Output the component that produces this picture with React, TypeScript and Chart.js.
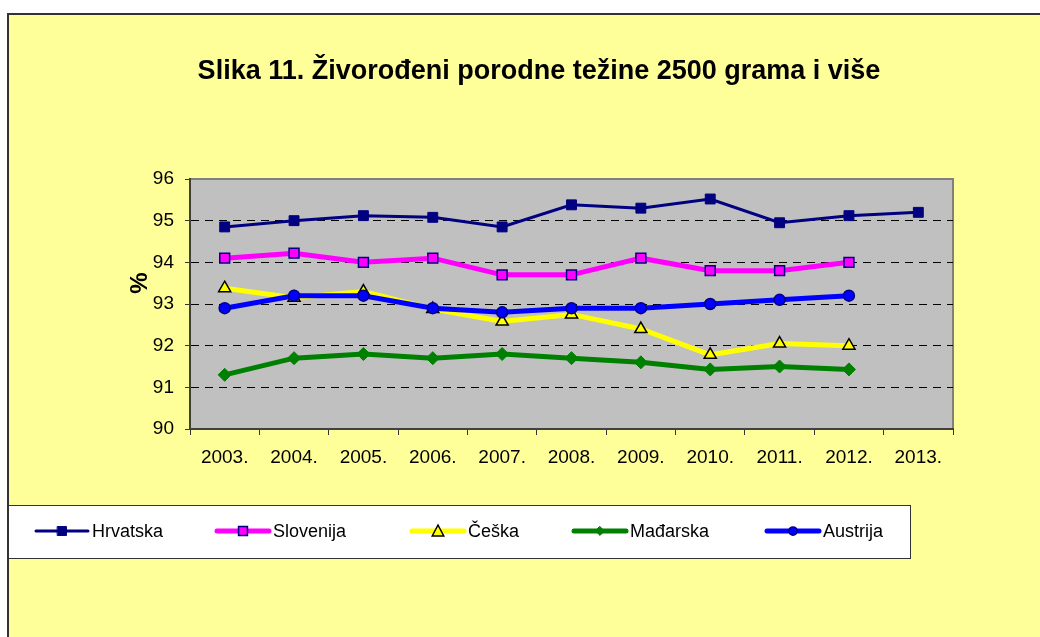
import { useEffect, useRef } from 'react';
import { Chart, registerables } from 'chart.js';

Chart.register(...registerables);

const TITLE = 'Slika 11. Živorođeni porodne težine 2500 grama i više';
const Y_LABEL = '%';
const YEARS = ['2003.', '2004.', '2005.', '2006.', '2007.', '2008.', '2009.', '2010.', '2011.', '2012.', '2013.'];
const HRVATSKA = [94.85, 95.0, 95.12, 95.08, 94.85, 95.38, 95.3, 95.52, 94.95, 95.12, 95.2];
const SLOVENIJA = [94.1, 94.22, 94.0, 94.1, 93.7, 93.7, 94.1, 93.8, 93.8, 94.0];
const CESKA = [93.38, 93.15, 93.3, 92.88, 92.58, 92.75, 92.4, 91.78, 92.05, 92.0];
const MADARSKA = [91.3, 91.7, 91.8, 91.7, 91.8, 91.7, 91.6, 91.43, 91.5, 91.43];
const AUSTRIJA = [92.9, 93.2, 93.2, 92.9, 92.8, 92.9, 92.9, 93.0, 93.1, 93.2];
const Y_MIN = 90;
const Y_MAX = 96;
const Y_STEP = 1;

const FONT = '"Liberation Sans", Arial, sans-serif';

function drawMarker(ctx: CanvasRenderingContext2D, style: string, x: number, y: number, r: number, fill: string, stroke: string, lw: number) {
  ctx.beginPath();
  if (style === 'rect') {
    const s = r * Math.SQRT1_2;
    ctx.rect(x - s, y - s, 2 * s, 2 * s);
  } else if (style === 'rectRot') {
    ctx.moveTo(x, y - r);
    ctx.lineTo(x + r, y);
    ctx.lineTo(x, y + r);
    ctx.lineTo(x - r, y);
    ctx.closePath();
  } else if (style === 'triangle') {
    const h = r * 1.5;
    const w = r * Math.cos(Math.PI / 6);
    ctx.moveTo(x, y - h / 2 - 1);
    ctx.lineTo(x + w, y + h / 2);
    ctx.lineTo(x - w, y + h / 2);
    ctx.closePath();
  } else {
    ctx.arc(x, y, r, 0, Math.PI * 2);
  }
  ctx.fillStyle = fill;
  ctx.fill();
  ctx.lineWidth = lw;
  ctx.strokeStyle = stroke;
  ctx.stroke();
}

const LEGEND_BOX = { x: 8, y: 505, w: 902, h: 53 };
const LEGEND_ITEM_X = [36, 217, 412, 574, 767];
const LEGEND_LINE_LEN = 52;
const LEGEND_MARKER_SCALE: Record<string, number> = { rect: 0.9, triangle: 0.95, rectRot: 0.68, circle: 0.75 };

const framePlugin = {
  id: 'frame',
  beforeDraw(chart: any) {
    const { ctx, chartArea: a } = chart;
    const W = chart.width;
    const H = chart.height;
    ctx.save();
    ctx.fillStyle = '#FFFFFF';
    ctx.fillRect(0, 0, W, H);
    ctx.fillStyle = '#FFFF99';
    ctx.fillRect(8, 14, W - 8, H - 14);
    ctx.fillStyle = '#333333';
    ctx.fillRect(7, 13, 2, H - 13);
    ctx.fillRect(7, 13, W - 7, 2);
    ctx.fillStyle = '#C0C0C0';
    ctx.fillRect(a.left, a.top, a.right - a.left, a.bottom - a.top);
    ctx.strokeStyle = '#808080';
    ctx.lineWidth = 2;
    ctx.beginPath();
    ctx.moveTo(a.left, a.top);
    ctx.lineTo(a.right, a.top);
    ctx.lineTo(a.right, a.bottom);
    ctx.stroke();
    ctx.fillStyle = '#000000';
    ctx.font = 'bold 27px ' + FONT;
    ctx.textAlign = 'center';
    ctx.textBaseline = 'alphabetic';
    ctx.fillText(TITLE, 539, 79);
    ctx.translate(140, 283);
    ctx.rotate(-Math.PI / 2);
    ctx.font = 'bold 24px ' + FONT;
    ctx.textBaseline = 'middle';
    ctx.fillText(Y_LABEL, 0, 0);
    ctx.restore();
  },
  afterDraw(chart: any) {
    const { ctx } = chart;
    ctx.save();
    const b = LEGEND_BOX;
    ctx.fillStyle = '#FFFFFF';
    ctx.fillRect(b.x, b.y, b.w, b.h);
    ctx.strokeStyle = '#333333';
    ctx.lineWidth = 1;
    ctx.strokeRect(b.x + 0.5, b.y + 0.5, b.w, b.h);
    const cy = b.y + 26;
    chart.data.datasets.forEach((ds: any, i: number) => {
      const x0 = LEGEND_ITEM_X[i];
      ctx.strokeStyle = ds.borderColor;
      ctx.lineWidth = ds.borderWidth;
      ctx.lineCap = 'round';
      ctx.beginPath();
      ctx.moveTo(x0, cy);
      ctx.lineTo(x0 + LEGEND_LINE_LEN, cy);
      ctx.stroke();
      const sc = LEGEND_MARKER_SCALE[ds.pointStyle] ?? 0.75;
      drawMarker(ctx, ds.pointStyle, x0 + LEGEND_LINE_LEN / 2, cy, ds.pointRadius * sc, ds.pointBackgroundColor, ds.pointBorderColor, ds.pointBorderWidth);
      ctx.fillStyle = '#000000';
      ctx.font = '18px ' + FONT;
      ctx.textAlign = 'left';
      ctx.textBaseline = 'alphabetic';
      ctx.fillText(ds.label, x0 + LEGEND_LINE_LEN + 4, cy + 6);
    });
    ctx.restore();
  },
};

export default function App() {
  const ref = useRef<HTMLCanvasElement>(null);
  useEffect(() => {
    const tickFont = { family: FONT, size: 19 };
    const chart = new Chart(ref.current as HTMLCanvasElement, {
      type: 'line',
      data: {
        labels: YEARS,
        datasets: [
          { label: 'Hrvatska', data: HRVATSKA, borderColor: '#000080', borderWidth: 3, pointStyle: 'rect', pointRadius: 7, pointBackgroundColor: '#000080', pointBorderColor: '#000080', pointBorderWidth: 1, tension: 0, order: 5 },
          { label: 'Slovenija', data: SLOVENIJA, borderColor: '#FF00FF', borderWidth: 5, pointStyle: 'rect', pointRadius: 7, pointBackgroundColor: '#FF00FF', pointBorderColor: '#000080', pointBorderWidth: 1.5, tension: 0, order: 4 },
          { label: 'Češka', data: CESKA, borderColor: '#FFFF00', borderWidth: 5, pointStyle: 'triangle', pointRadius: 7, pointBackgroundColor: '#FFFF00', pointBorderColor: '#000000', pointBorderWidth: 1.5, tension: 0, order: 3 },
          { label: 'Mađarska', data: MADARSKA, borderColor: '#008000', borderWidth: 5, pointStyle: 'rectRot', pointRadius: 6.5, pointBackgroundColor: '#008000', pointBorderColor: '#008000', pointBorderWidth: 1, tension: 0, order: 2 },
          { label: 'Austrija', data: AUSTRIJA, borderColor: '#0000FF', borderWidth: 5, pointStyle: 'circle', pointRadius: 5.5, pointBackgroundColor: '#0000FF', pointBorderColor: '#000080', pointBorderWidth: 1.5, tension: 0, order: 1 },
        ] as any,
      },
      options: {
        responsive: false,
        maintainAspectRatio: false,
        animation: false,
        devicePixelRatio: 1,
        events: [],
        layout: { padding: { left: 0, right: 87, top: 179, bottom: 148 } },
        plugins: { legend: { display: false }, title: { display: false }, tooltip: { enabled: false } },
        scales: {
          x: {
            type: 'category',
            offset: true,
            grid: { offset: true, drawOnChartArea: false, tickLength: 6, tickColor: '#333333', tickWidth: 1 },
            border: { color: '#404040', width: 2 },
            ticks: { font: tickFont, color: '#000000', padding: 11, maxRotation: 0, autoSkip: false },
            afterFit(s: any) { s.height = 60; },
          },
          y: {
            min: Y_MIN,
            max: Y_MAX,
            ticks: { stepSize: Y_STEP, font: tickFont, color: '#000000', padding: 11 },
            grid: {
              color: (c: any) => (c.tick && (c.tick.value === Y_MIN || c.tick.value === Y_MAX) ? 'rgba(0,0,0,0)' : '#000000'),
              tickColor: '#333333',
              tickLength: 5,
              lineWidth: 1,
            },
            border: { color: '#404040', width: 2, dash: [8, 6] },
            afterFit(s: any) { s.width = 190; },
          },
        },
      } as any,
      plugins: [framePlugin],
    });
    return () => chart.destroy();
  }, []);
  return (
    <div style={{ position: 'fixed', left: 0, top: 0, width: 1040, height: 637, background: '#fff' }}>
      <canvas ref={ref} width={1040} height={637} style={{ display: 'block', width: 1040, height: 637 }} />
    </div>
  );
}
